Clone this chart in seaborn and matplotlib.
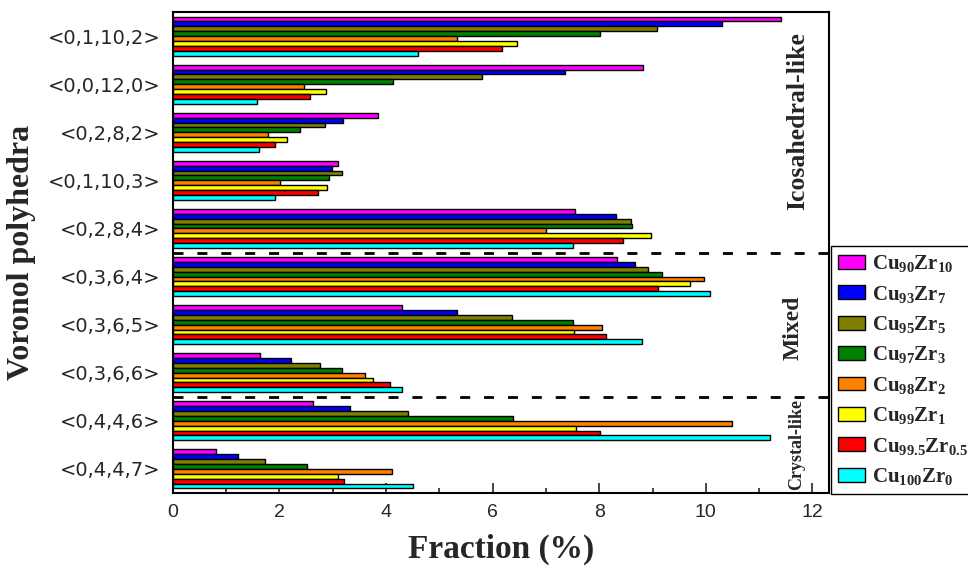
import matplotlib
matplotlib.use("Agg")
import matplotlib.pyplot as plt
import seaborn as sns
import pandas as pd
from matplotlib.ticker import MultipleLocator

# ---- data ----
polyhedra = ["<0,1,10,2>", "<0,0,12,0>", "<0,2,8,2>", "<0,1,10,3>", "<0,2,8,4>",
             "<0,3,6,4>", "<0,3,6,5>", "<0,3,6,6>", "<0,4,4,6>", "<0,4,4,7>"]
alloys = [r"Cu$_{90}$Zr$_{10}$", r"Cu$_{93}$Zr$_{7}$", r"Cu$_{95}$Zr$_{5}$", r"Cu$_{97}$Zr$_{3}$",
          r"Cu$_{98}$Zr$_{2}$", r"Cu$_{99}$Zr$_{1}$", r"Cu$_{99.5}$Zr$_{0.5}$", r"Cu$_{100}$Zr$_{0}$"]
cu90zr10 = [11.41, 8.82, 3.86, 3.10, 7.55, 8.34, 4.30, 1.63, 2.63, 0.82]
cu93zr7 = [10.31, 7.35, 3.20, 2.98, 8.32, 8.68, 5.34, 2.21, 3.32, 1.22]
cu95zr5 = [9.09, 5.81, 2.86, 3.18, 8.60, 8.92, 6.37, 2.77, 4.41, 1.73]
cu97zr3 = [8.01, 4.14, 2.39, 2.94, 8.62, 9.17, 7.51, 3.18, 6.38, 2.51]
cu98zr2 = [5.33, 2.46, 1.78, 2.02, 7.01, 9.97, 8.05, 3.61, 10.49, 4.11]
cu99zr1 = [6.45, 2.87, 2.14, 2.90, 8.97, 9.71, 7.53, 3.76, 7.57, 3.11]
cu995zr05 = [6.18, 2.58, 1.92, 2.73, 8.44, 9.11, 8.12, 4.08, 8.02, 3.21]
cu100zr0 = [4.61, 1.58, 1.61, 1.91, 7.50, 10.07, 8.81, 4.31, 11.20, 4.51]
series = [cu90zr10, cu93zr7, cu95zr5, cu97zr3, cu98zr2, cu99zr1, cu995zr05, cu100zr0]
colors = ["#FF00FF", "#0000FF", "#808000", "#008000", "#FF8000", "#FFFF00", "#FF0000", "#00FFFF"]
region_labels = ["Icosahedral-like", "Mixed", "Crystal-like"]

rows = []
for alloy, vals in zip(alloys, series):
    for p, v in zip(polyhedra, vals):
        rows.append({"Polyhedra": p, "Alloy": alloy, "Fraction": v})
df = pd.DataFrame(rows)

sns.set_style("ticks")
plt.rcParams["mathtext.fontset"] = "custom"
plt.rcParams["mathtext.rm"] = "Liberation Serif:bold"
plt.rcParams["mathtext.it"] = "Liberation Serif:bold"
plt.rcParams["mathtext.bf"] = "Liberation Serif:bold"

fig = plt.figure(figsize=(9.68, 5.67), dpi=100)
ax = fig.add_axes([0.1784, 0.1305, 0.8564 - 0.1784, 0.9788 - 0.1305])

sns.barplot(data=df, x="Fraction", y="Polyhedra", hue="Alloy", orient="h",
            palette=colors, saturation=1, edgecolor="black", linewidth=1,
            width=0.81, ax=ax, order=polyhedra, hue_order=alloys)

ax.set_xlim(0, 12.31)
ax.set_ylim(9.5, -0.5)

for y in (4.5, 7.5):
    ax.axhline(y, color="black", lw=2, ls=(0, (3.6, 5)), zorder=5)

ax.text(11.73, 1.77, region_labels[0], rotation=90, ha="center", va="center",
        fontsize=18.5, fontweight="bold", family="Liberation Serif")
ax.text(11.64, 6.07, region_labels[1], rotation=90, ha="center", va="center",
        fontsize=17, fontweight="bold", family="Liberation Serif")
ax.text(11.71, 8.50, region_labels[2], rotation=90, ha="center", va="center",
        fontsize=13, fontweight="bold", family="Liberation Serif")

ax.set_xlabel("Fraction (%)", fontsize=24, fontweight="bold", family="Liberation Serif", labelpad=9)
ax.set_ylabel("Voronol polyhedra", fontsize=23, fontweight="bold", family="Liberation Serif", labelpad=8)

ax.xaxis.set_major_locator(MultipleLocator(2))
ax.xaxis.set_minor_locator(MultipleLocator(1))
ax.tick_params(axis="x", which="major", direction="in", length=7, width=1.2, pad=8, labelsize=14)
ax.tick_params(axis="x", which="minor", direction="in", length=3.5, width=1.2)
ax.tick_params(axis="y", length=0, pad=9, labelsize=14)
for lab in ax.get_xticklabels():
    lab.set_family("Liberation Sans")
for lab in ax.get_yticklabels():
    lab.set_family("DejaVu Sans")

for s in ax.spines.values():
    s.set_visible(True)
    s.set_linewidth(1.5)
    s.set_color("black")

handles, labels = ax.get_legend_handles_labels()
if ax.get_legend() is not None:
    ax.get_legend().remove()
leg = fig.legend(handles, labels, loc="upper left", bbox_to_anchor=(831 / 968, 1 - 246 / 567),
                 bbox_transform=fig.transFigure, borderaxespad=0, frameon=True, fancybox=False,
                 framealpha=1, edgecolor="black", prop={"family": "Liberation Serif", "weight": "bold", "size": 15},
                 handlelength=1.3, handleheight=0.65, handletextpad=0.3, labelspacing=0.45,
                 borderpad=0.35)
leg.get_frame().set_linewidth(1)

fig.savefig("out.png", dpi=100)
